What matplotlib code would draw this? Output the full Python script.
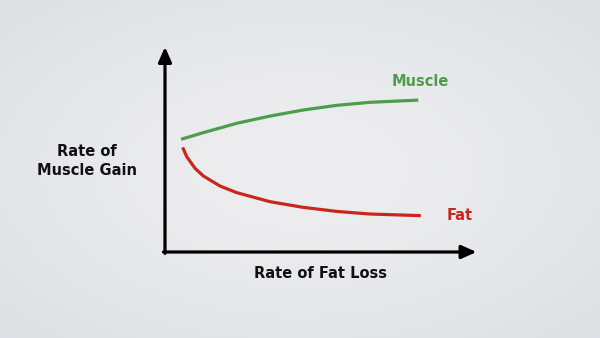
import numpy as np
import matplotlib
matplotlib.use("Agg")
import matplotlib.pyplot as plt

# Data (arbitrary units)
muscle_x = [0.52, 1.24, 2.31, 3.39, 4.46, 5.54, 6.61, 8.17]
muscle_y = [5.58, 5.91, 6.37, 6.73, 7.03, 7.26, 7.41, 7.52]
fat_x = [0.57, 0.70, 0.97, 1.24, 1.77, 2.31, 3.39, 4.46, 5.54, 6.61, 8.25]
fat_y = [5.18, 4.72, 4.14, 3.76, 3.27, 2.94, 2.49, 2.21, 2.01, 1.88, 1.80]
x_label = "Rate of Fat Loss"
y_label = "Rate of\nMuscle Gain"
muscle_label = "Muscle"
fat_label = "Fat"

GREEN = "#4c9e4a"
RED = "#c8281c"
FONT = ["DejaVu Sans"]
FS = 10.5

W, H = 600, 338
fig = plt.figure(figsize=(W / 100, H / 100), dpi=100)

# background radial gradient
bg = fig.add_axes([0, 0, 1, 1])
yy, xx = np.mgrid[0:H, 0:W]
r = np.sqrt(((xx - W / 2) / (W / 2)) ** 2 + ((yy - H / 2) / (H / 2)) ** 2) / np.sqrt(2)
c_center = np.array([0xee, 0xee, 0xf0]) / 255
c_edge = np.array([0xdc, 0xdf, 0xe3]) / 255
t = np.clip(r, 0, 1)[..., None] ** 1.5
img = c_center * (1 - t) + c_edge * t
bg.imshow(img, extent=[0, W, H, 0], aspect="auto")
bg.set_xlim(0, W)
bg.set_ylim(H, 0)
bg.axis("off")

# plot axes: x 165..475 px, y 50..252 px
x0, x1, ytop, ybot = 165, 475, 50, 252
ax = fig.add_axes([x0 / W, 1 - ybot / H, (x1 - x0) / W, (ybot - ytop) / H])
ax.set_xlim(0, 10)
ax.set_ylim(0, 10)
ax.patch.set_alpha(0)
for s in ax.spines.values():
    s.set_visible(False)
ax.set_xticks([])
ax.set_yticks([])

ax.plot(muscle_x, muscle_y, color=GREEN, lw=2.3, solid_capstyle="butt",
        solid_joinstyle="round", clip_on=False)
ax.plot(fat_x, fat_y, color=RED, lw=2.3, solid_capstyle="butt",
        solid_joinstyle="round", clip_on=False)

# arrows (axes)
ax.annotate("", xy=(0, 10.15), xytext=(0, -0.07), xycoords="data",
            arrowprops=dict(arrowstyle="-|>,head_length=0.9,head_width=0.4", color="black",
                            lw=2.3, shrinkA=0, shrinkB=0), annotation_clip=False)
ax.annotate("", xy=(10.05, 0), xytext=(-0.05, 0), xycoords="data",
            arrowprops=dict(arrowstyle="-|>,head_length=0.9,head_width=0.4", color="black",
                            lw=2.3, shrinkA=0, shrinkB=0), annotation_clip=False)

ax.text(8.25, 8.45, muscle_label, color=GREEN, fontsize=FS, fontweight="bold",
        ha="center", va="center", family=FONT)
ax.text(9.5, 1.8, fat_label, color=RED, fontsize=FS, fontweight="bold",
        ha="center", va="center", family=FONT)

fig.text(87 / W, 1 - 161 / H, y_label, fontsize=FS, fontweight="bold", ha="center",
         va="center", linespacing=1.3, family=FONT, color="#111111")
fig.text(321 / W, 1 - 274 / H, x_label, fontsize=FS, fontweight="bold", ha="center",
         va="center", family=FONT, color="#111111")

fig.savefig("out.png", dpi=100)
